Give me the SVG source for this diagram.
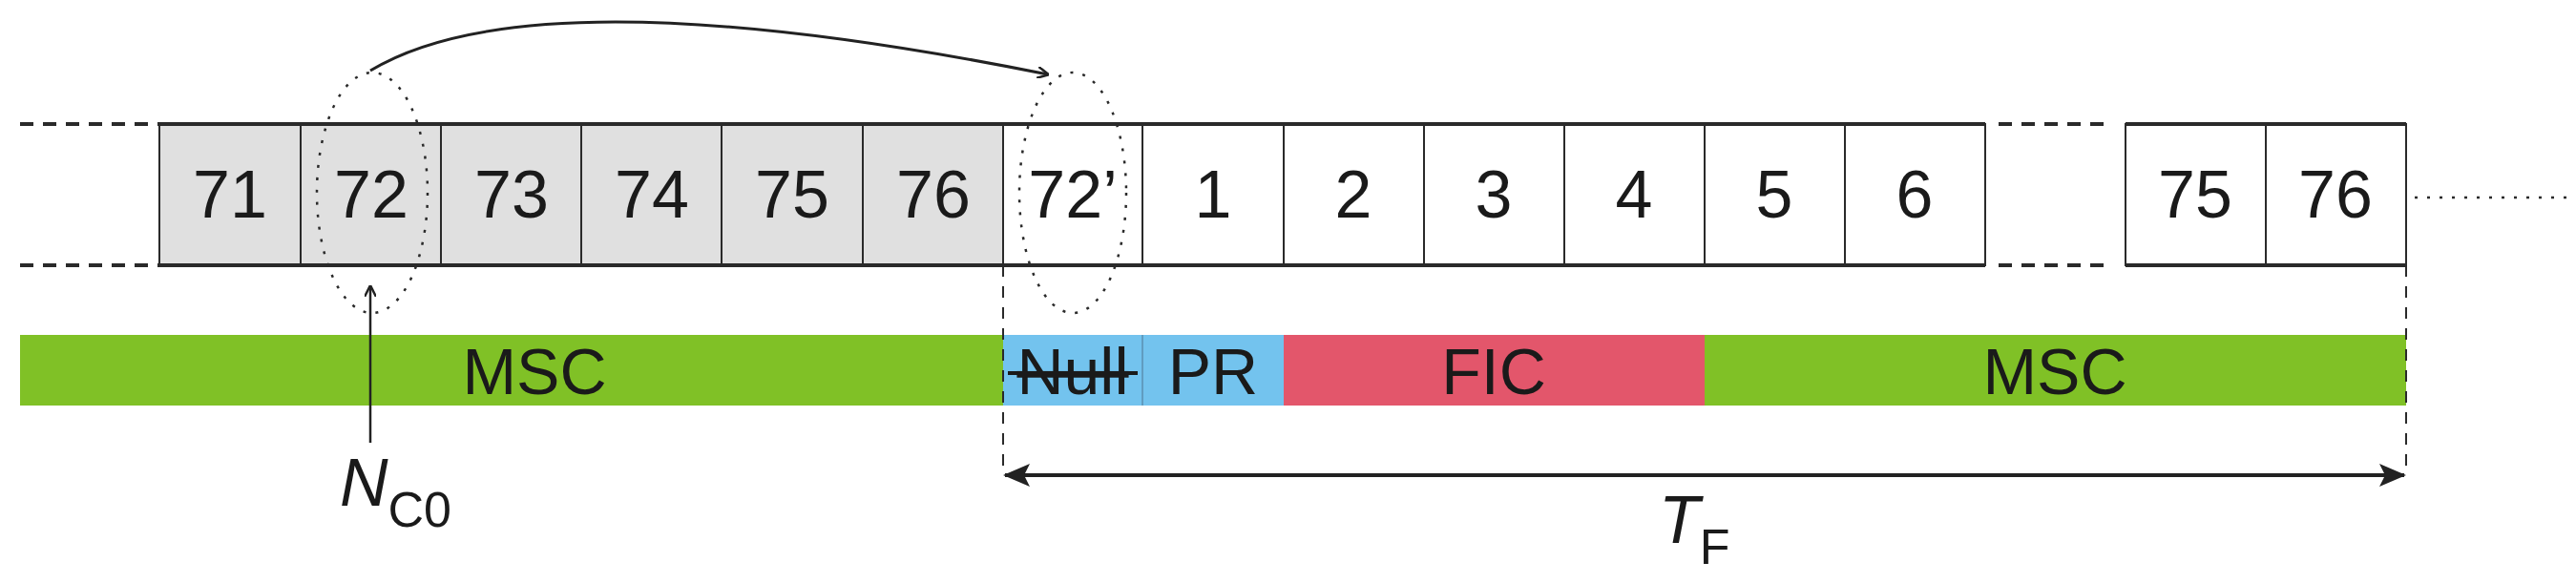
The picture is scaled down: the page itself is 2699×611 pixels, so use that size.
<svg xmlns="http://www.w3.org/2000/svg" width="2699" height="611" viewBox="0 0 2699 611">
<style>
.c{stroke:#2a2a2a;stroke-width:2}
.t{font-family:"Liberation Sans",Arial,sans-serif;font-size:70px;fill:#1a1a1a;text-anchor:middle}
.b{font-family:"Liberation Sans",Arial,sans-serif;font-size:68px;fill:#1a1a1a;text-anchor:middle}
.h{stroke:#2a2a2a;stroke-width:4}
.dash{stroke:#2a2a2a;stroke-width:4;stroke-dasharray:14 10;fill:none}
.dot{stroke:#2a2a2a;stroke-width:2.5;stroke-dasharray:3 10;fill:none}
.vd{stroke:#2a2a2a;stroke-width:2;stroke-dasharray:12 10;fill:none}
</style>
<defs>
<marker id="a" markerWidth="12" markerHeight="12" refX="11" refY="6" orient="auto" markerUnits="userSpaceOnUse"><path d="M0,0 L12,6 L0,12" fill="none" stroke="#222" stroke-width="2.5"/></marker>
<marker id="f" markerWidth="28" markerHeight="24" refX="26" refY="12" orient="auto-start-reverse" markerUnits="userSpaceOnUse"><path d="M0,0 L28,12 L0,24 L6,12 Z" fill="#222"/></marker>
</defs>
<g id="frames">
<g id="cell71"><rect x="167" y="130" width="148" height="148" fill="#e0e0e0" class="c"/><text x="241" y="228" class="t">71</text></g>
<g id="cell72"><rect x="315" y="130" width="147" height="148" fill="#e0e0e0" class="c"/><text x="389" y="228" class="t">72</text></g>
<g id="cell73"><rect x="462" y="130" width="147" height="148" fill="#e0e0e0" class="c"/><text x="536" y="228" class="t">73</text></g>
<g id="cell74"><rect x="609" y="130" width="147" height="148" fill="#e0e0e0" class="c"/><text x="683" y="228" class="t">74</text></g>
<g id="cell75"><rect x="756" y="130" width="148" height="148" fill="#e0e0e0" class="c"/><text x="830" y="228" class="t">75</text></g>
<g id="cell76"><rect x="904" y="130" width="147" height="148" fill="#e0e0e0" class="c"/><text x="978" y="228" class="t">76</text></g>
<g id="cell72p"><rect x="1051" y="130" width="146" height="148" fill="#fff" class="c"/><text x="1124" y="228" class="t">72’</text></g>
<g id="cell1"><rect x="1197" y="130" width="148" height="148" fill="#fff" class="c"/><text x="1271" y="228" class="t">1</text></g>
<g id="cell2"><rect x="1345" y="130" width="147" height="148" fill="#fff" class="c"/><text x="1418" y="228" class="t">2</text></g>
<g id="cell3"><rect x="1492" y="130" width="147" height="148" fill="#fff" class="c"/><text x="1565" y="228" class="t">3</text></g>
<g id="cell4"><rect x="1639" y="130" width="147" height="148" fill="#fff" class="c"/><text x="1712" y="228" class="t">4</text></g>
<g id="cell5"><rect x="1786" y="130" width="147" height="148" fill="#fff" class="c"/><text x="1859" y="228" class="t">5</text></g>
<g id="cell6"><rect x="1933" y="130" width="147" height="148" fill="#fff" class="c"/><text x="2006" y="228" class="t">6</text></g>
<g id="cell75b"><rect x="2227" y="130" width="147" height="148" fill="#fff" class="c"/><text x="2300" y="228" class="t">75</text></g>
<g id="cell76b"><rect x="2374" y="130" width="147" height="148" fill="#fff" class="c"/><text x="2447" y="228" class="t">76</text></g>
<line x1="167" y1="130" x2="2080" y2="130" class="h"/><line x1="167" y1="278" x2="2080" y2="278" class="h"/>
<line x1="2227" y1="130" x2="2521" y2="130" class="h"/><line x1="2227" y1="278" x2="2521" y2="278" class="h"/>
</g>
<g id="bar">
<g id="msc1"><rect x="21" y="351" width="1030" height="74" fill="#80c126"/><text x="560" y="413" class="b">MSC</text></g>
<g id="null"><rect x="1051" y="351" width="146" height="74" fill="#73c3ee"/><text x="1124" y="413" class="b" text-decoration="line-through">Null</text><line x1="1056" y1="391" x2="1192" y2="391" stroke="#1a1a1a" stroke-width="4"/></g>
<g id="pr"><rect x="1197" y="351" width="148" height="74" fill="#73c3ee"/><text x="1271" y="413" class="b">PR</text></g>
<g id="fic"><rect x="1345" y="351" width="441" height="74" fill="#e3566b"/><text x="1565" y="413" class="b">FIC</text></g>
<g id="msc2"><rect x="1786" y="351" width="735" height="74" fill="#80c126"/><text x="2153" y="413" class="b">MSC</text></g>
<line x1="1197" y1="351" x2="1197" y2="425" stroke="#5a8fb0" stroke-width="1.5"/>
</g>
<g id="labels">
<text x="356" y="530" font-family="Liberation Sans,Arial,sans-serif" font-size="70" font-style="italic" fill="#1a1a1a">N<tspan font-size="52" font-style="normal" dy="22">C0</tspan></text>
<text x="1738" y="569" font-family="Liberation Sans,Arial,sans-serif" font-size="70" font-style="italic" fill="#1a1a1a">T<tspan font-size="52" font-style="normal" dy="22">F</tspan></text>
</g>
<g id="connectors">
<line x1="21" y1="130" x2="167" y2="130" class="dash"/><line x1="21" y1="278" x2="167" y2="278" class="dash"/>
<line x1="2094" y1="130" x2="2214" y2="130" class="dash"/><line x1="2094" y1="278" x2="2214" y2="278" class="dash"/>
<line x1="2530" y1="207" x2="2699" y2="207" class="dot"/>
<ellipse cx="390" cy="202" rx="58" ry="126" class="dot"/>
<ellipse cx="1124" cy="202" rx="56" ry="126" class="dot"/>
<path d="M388,74 Q560,-30 1098,78" fill="none" stroke="#222" stroke-width="3" marker-end="url(#a)"/>
<line x1="388" y1="464" x2="388" y2="300" stroke="#222" stroke-width="2.5" marker-end="url(#a)"/>
<line x1="1051" y1="278" x2="1051" y2="490" class="vd"/>
<line x1="2521" y1="278" x2="2521" y2="490" class="vd"/>
<line x1="1053" y1="498" x2="2519" y2="498" stroke="#222" stroke-width="4" marker-start="url(#f)" marker-end="url(#f)"/>
</g>
</svg>
